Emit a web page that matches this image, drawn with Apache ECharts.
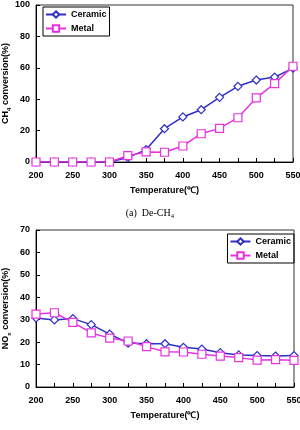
<!DOCTYPE html>
<html>
<head>
<meta charset="utf-8">
<script src="https://cdn.jsdelivr.net/npm/echarts@6/dist/echarts.min.js"></script>
<style>
html,body{margin:0;padding:0;background:#fff;}
#main{width:300px;height:430px;}
</style>
</head>
<body>
<div id="main"></div>
<script>
var temps = [200, 225, 250, 275, 300, 325, 350, 375, 400, 425, 450, 475, 500, 525, 550];
var ch4Ceramic = [0, 0, 0, 0, 0, 2.8, 7.9, 21.2, 28.7, 33.3, 41.2, 48.2, 52.2, 54.1, 59.7];
var ch4Metal = [0, 0, 0, 0, 0, 4, 6.4, 6.2, 10.2, 18, 21.4, 28.2, 40.8, 49.9, 61];
var noxCeramic = [30.8, 29.9, 30.5, 27.8, 23.6, 19.6, 19.3, 19.3, 17.7, 16.9, 15.3, 14.3, 14, 13.8, 14];
var noxMetal = [32.5, 33.1, 28.8, 24.1, 21.8, 20.5, 18, 15.7, 15.6, 14.6, 13.8, 13.1, 12, 12.2, 11.9];
var seriesNames = ['Ceramic', 'Metal'];
var caption = '(a)  De-CH\u2084';

var blue = '#2f2fc4';
var pink = '#e633e0';
var font = 'Liberation Sans';

function pairs(ys) {
	return temps.map(function (t, i) { return [t, ys[i]]; });
}

function xAxis(idx) {
	return {
		type: 'value', gridIndex: idx, min: 200, max: 550, interval: 50,
		name: 'Temperature(\u2103)', nameLocation: 'middle', nameGap: 24, nameMoveOverlap: false,
		nameTextStyle: {color: '#000', fontFamily: font, fontWeight: 'bold', fontSize: 9},
		axisLine: {lineStyle: {color: '#000', width: 1}},
		axisTick: {inside: true, length: 4, lineStyle: {color: '#000'}},
		minorTick: {show: true, splitNumber: 2, length: 4, lineStyle: {color: '#000'}},
		axisLabel: {color: '#000', fontFamily: font, fontWeight: 'bold', fontSize: 9, margin: 9},
		splitLine: {show: false}
	};
}

function yAxis(idx, max, interval, name) {
	return {
		type: 'value', gridIndex: idx, min: 0, max: max, interval: interval,
		name: name, nameLocation: 'middle', nameGap: 26, nameMoveOverlap: false,
		nameTextStyle: {
			color: '#000', fontFamily: font, fontWeight: 'bold', fontSize: 9, lineHeight: 11,
			rich: {
				n: {color: '#000', fontFamily: font, fontWeight: 'bold', fontSize: 9, lineHeight: 11, verticalAlign: 'bottom'},
				s: {color: '#000', fontFamily: font, fontWeight: 'bold', fontSize: 6, lineHeight: 11, verticalAlign: 'bottom', padding: [0, 0, -2, 0]}
			}
		},
		axisLine: {show: true, lineStyle: {color: '#000', width: 1}},
		axisTick: {inside: true, length: 4, lineStyle: {color: '#000'}},
		axisLabel: {color: '#000', fontFamily: font, fontWeight: 'bold', fontSize: 9, margin: 6},
		splitLine: {show: false}
	};
}

function line(name, ys, idx, color, symbol) {
	return {
		name: name, type: 'line', xAxisIndex: idx, yAxisIndex: idx,
		data: pairs(ys), symbol: symbol, symbolSize: 8, showAllSymbol: true,
		lineStyle: {color: color, width: 1.5},
		itemStyle: {color: '#fff', borderColor: color, borderWidth: 1.2},
		animation: false
	};
}

function legend(pos) {
	var l = {
		data: seriesNames, orient: 'vertical', itemGap: 5,
		itemWidth: 20, itemHeight: 8, padding: [3, 3, 3, 2],
		borderColor: '#000', borderWidth: 1,
		textStyle: {color: '#000', fontFamily: font, fontWeight: 'bold', fontSize: 9},
		selectedMode: false
	};
	for (var k in pos) l[k] = pos[k];
	return l;
}

var chart = echarts.init(document.getElementById('main'));
var option = {
	backgroundColor: '#fff',
	title: {
		text: caption, left: 'center', top: 203,
		textStyle: {fontFamily: 'Liberation Serif', fontWeight: 'normal', fontSize: 10, color: '#000'}
	},
	grid: [
		{left: 36, right: 7, top: 5, height: 157, show: true, borderColor: '#333', borderWidth: 1, outerBoundsMode: 'none', containLabel: false},
		{left: 36, right: 6, top: 230, height: 157, show: true, borderColor: '#333', borderWidth: 1, outerBoundsMode: 'none', containLabel: false}
	],
	legend: [
		legend({left: 43, top: 7}),
		legend({right: 6, top: 234})
	],
	xAxis: [xAxis(0), xAxis(1)],
	yAxis: [
		yAxis(0, 100, 20, '{n|CH}{s|4}{n| conversion(%)}'),
		yAxis(1, 70, 10, '{n|NO}{s|x}{n| conversion(%)}')
	],
	series: [
		line(seriesNames[0], ch4Ceramic, 0, blue, 'diamond'),
		line(seriesNames[1], ch4Metal, 0, pink, 'rect'),
		line(seriesNames[0], noxCeramic, 1, blue, 'diamond'),
		line(seriesNames[1], noxMetal, 1, pink, 'rect')
	]
};
chart.setOption(option);
</script>
</body>
</html>
